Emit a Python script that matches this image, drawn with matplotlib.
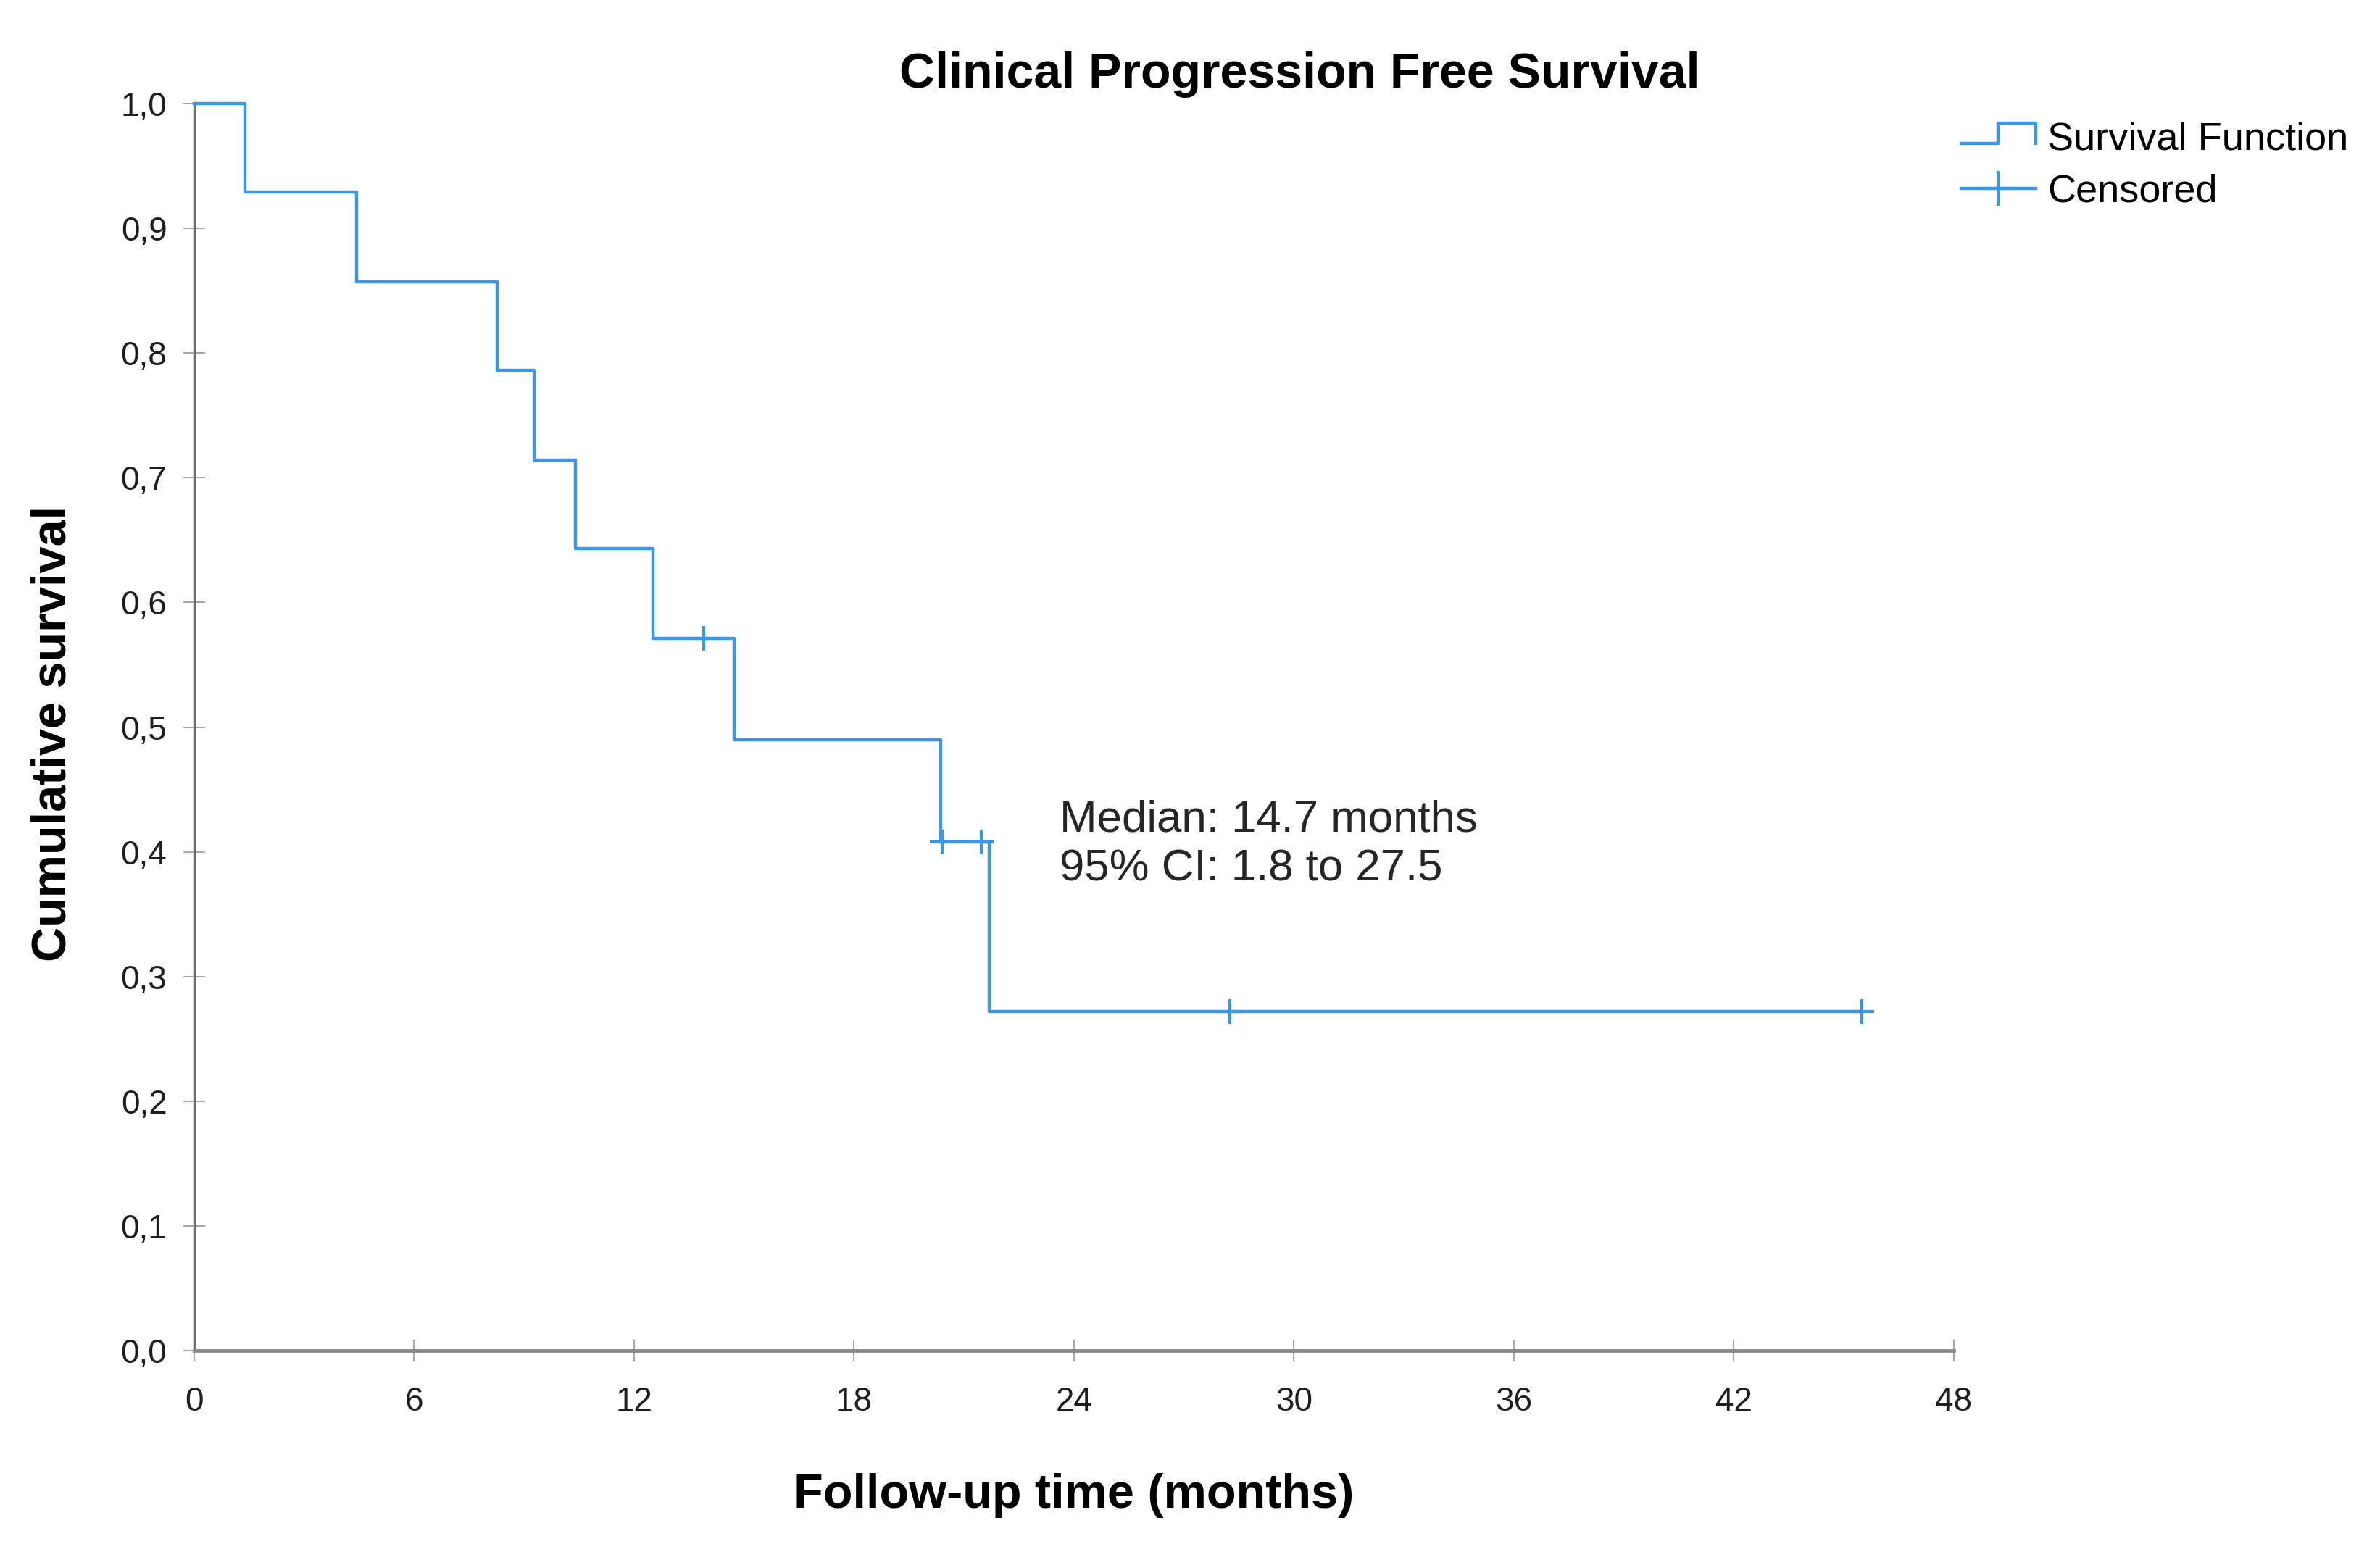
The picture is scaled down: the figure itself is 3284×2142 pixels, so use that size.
import matplotlib
matplotlib.use("Agg")
import matplotlib.pyplot as plt
from matplotlib.lines import Line2D
from matplotlib.legend_handler import HandlerBase

# Kaplan-Meier values
event_months = [1.38, 4.42, 8.26, 9.28, 10.39, 12.51, 14.73, 20.37, 21.69]
surv_after = [0.929, 0.857, 0.786, 0.714, 0.643, 0.571, 0.490, 0.408, 0.272]
censor_months = [13.89, 20.40, 21.48, 28.26, 45.50]
censor_surv = [0.571, 0.408, 0.408, 0.272, 0.272]

x_ticks = [0, 6, 12, 18, 24, 30, 36, 42, 48]
y_ticks = [0.0, 0.1, 0.2, 0.3, 0.4, 0.5, 0.6, 0.7, 0.8, 0.9, 1.0]
y_tick_labels = ["0,0", "0,1", "0,2", "0,3", "0,4", "0,5",
                 "0,6", "0,7", "0,8", "0,9", "1,0"]

median_text = "Median: 14.7 months"
ci_text = "95% CI: 1.8 to 27.5"

blue = "#3c96e6"
plt.rcParams["font.family"] = ["Liberation Sans", "DejaVu Sans"]


class HandlerStep(HandlerBase):
    # little step glyph like the SPSS legend
    def create_artists(self, legend, orig_handle, xdescent, ydescent,
                       width, height, fontsize, trans):
        x0 = -xdescent
        lo = -ydescent + 0.2 * height
        hi = -ydescent + 0.95 * height
        xs = [x0, x0 + 0.5 * width, x0 + 0.5 * width, x0 + width, x0 + width]
        ys = [lo, lo, hi, hi, lo]
        glyph = Line2D(xs, ys, color=orig_handle.get_color(),
                       lw=orig_handle.get_linewidth(), transform=trans)
        return [glyph]


fig = plt.figure(figsize=(32.84, 21.42), dpi=100)
ax = fig.add_axes([0.0816, 0.1298, 0.7393, 0.8034])

step_x = [0] + event_months + [censor_months[-1]]
step_y = [1.0] + surv_after + [surv_after[-1]]
step_line, = ax.step(step_x, step_y, where="post", color=blue, lw=3.2,
                     clip_on=False, zorder=3)
ax.plot(censor_months, censor_surv, linestyle="none", marker="+",
        markersize=25, markeredgewidth=3, color=blue, clip_on=False,
        zorder=4)

ax.set_xlim(0, 48)
ax.set_ylim(0, 1)
ax.set_xticks(x_ticks)
ax.set_xticklabels([str(t) for t in x_ticks])
ax.set_yticks(y_ticks)
ax.set_yticklabels(y_tick_labels)

for side in ["top", "right"]:
    ax.spines[side].set_visible(False)
ax.spines["left"].set(color="#6e6e6e", linewidth=2.5)
ax.spines["bottom"].set(color="#8a8a8a", linewidth=3.5)
ax.tick_params(axis="both", direction="inout", length=22, width=1.5,
               color="#a8a8a8", labelsize=33, labelcolor="#1e1e1e")
ax.tick_params(axis="x", pad=24)
ax.tick_params(axis="y", pad=16)

ax.set_xlabel("Follow-up time (months)", fontsize=48, fontweight="bold")
ax.xaxis.set_label_coords(0.500, -0.116)
ax.xaxis.label.set_va("center")
ax.set_ylabel("Cumulative survival", fontsize=48, fontweight="bold")
ax.yaxis.set_label_coords(-0.080, 0.495)
ax.yaxis.label.set_va("center")

fig.text(0.546, 0.952, "Clinical Progression Free Survival", fontsize=49,
         fontweight="bold", ha="center", va="center")

ax.text(23.6, 0.4166, median_text, fontsize=44.5, color="#262626",
        va="baseline", ha="left")
ax.text(23.6, 0.3771, ci_text, fontsize=44.5, color="#262626",
        va="baseline", ha="left")

cens_handle = Line2D([], [], color=blue, lw=3.2, marker="+", markersize=34,
                     markeredgewidth=3)
fig.legend([step_line, cens_handle], ["Survival Function", "Censored"],
           handler_map={step_line: HandlerStep()},
           loc="upper left", bbox_to_anchor=(0.824, 0.922), frameon=False,
           fontsize=39, handlelength=1.9, handletextpad=0.3,
           labelspacing=0.42, borderpad=0, borderaxespad=0)

fig.savefig("out.png", dpi=100, facecolor="white")
